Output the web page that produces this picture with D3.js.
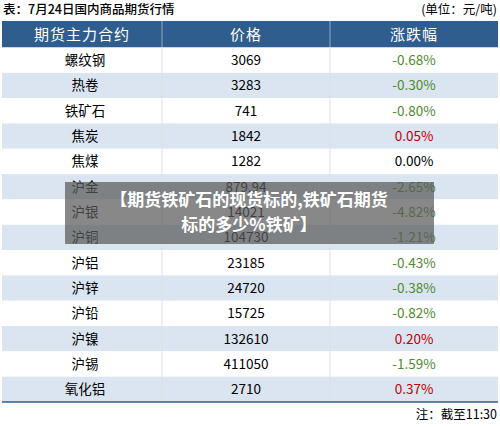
<!DOCTYPE html><html><head><meta charset="utf-8"><script src="https://cdn.jsdelivr.net/npm/d3@7"></script>
<style>body{margin:0;background:#fff}</style></head><body><svg id="c" width="500" height="427"></svg><script>
const names=["螺纹钢","热卷","铁矿石","焦炭","焦煤","沪金","沪银","沪铜","沪铝","沪锌","沪铅","沪镍","沪锡","氧化铝"];
const prices=["3069","3283","741","1842","1282","879.94","14021","104730","23185","24720","15725","132610","411050","2710"];
const changes=[-0.68,-0.30,-0.80,0.05,0.00,-2.65,-4.82,-1.21,-0.43,-0.38,-0.82,0.20,-1.59,0.37];
const headers=["期货主力合约","价格","涨跌幅"];
const svg=d3.select("#c"),F="'Noto Sans CJK SC',sans-serif";
const y=d3.scaleBand().domain(d3.range(names.length)).range([47.5,402]);
const cols=[[2,162],[162,330],[330,498]];
svg.append("text").attr("x",3).attr("y",14).attr("font-family",F).attr("font-size",12.5).attr("font-weight",500).text("表：7月24日国内商品期货行情");
svg.append("text").attr("x",497).attr("y",14).attr("text-anchor","end").attr("font-family",F).attr("font-size",12.5).text("(单位：元/吨)");
svg.append("rect").attr("x",2).attr("y",21).attr("width",496).attr("height",26.5).attr("fill","#2f5d8e");
headers.forEach((h,i)=>svg.append("text").attr("x",(cols[i][0]+cols[i][1])/2).attr("y",40).attr("text-anchor","middle").attr("fill","#fff").attr("font-family",F).attr("font-size",15).attr("letter-spacing",1).text(h));
[162,330].forEach(x=>svg.append("line").attr("x1",x).attr("x2",x).attr("y1",21).attr("y2",47.5).attr("stroke","#8fa9c8"));
names.forEach((n,i)=>{
 const g=svg.append("g");
 g.append("rect").attr("x",2).attr("y",y(i)).attr("width",496).attr("height",y.bandwidth()).attr("fill",i%2?"#dbe5f1":"#fff");
 const cy=y(i)+y.bandwidth()/2+5;
 g.append("text").attr("x",85).attr("y",cy).attr("text-anchor","middle").attr("font-family",F).attr("font-size",13.5).text(n);
 g.append("text").attr("x",246).attr("y",cy).attr("text-anchor","middle").attr("font-family",F).attr("font-size",13.5).text(prices[i]);
 const c=changes[i];
 g.append("text").attr("x",414).attr("y",cy).attr("text-anchor","middle").attr("font-family",F).attr("font-size",13.5)
  .attr("fill",c<0?"#4f8a2e":c>0?"#c00000":"#000").text(c.toFixed(2)+"%");
});
[162,330].forEach(x=>svg.append("line").attr("x1",x).attr("x2",x).attr("y1",47.5).attr("y2",402).attr("stroke","#e0e0e0"));
svg.append("line").attr("x1",2).attr("x2",498).attr("y1",402).attr("y2",402).attr("stroke","#2f5d8e").attr("stroke-width",1.5);
svg.append("text").attr("x",497).attr("y",419).attr("text-anchor","end").attr("font-family",F).attr("font-size",12.5).text("注：截至11:30");
svg.append("rect").attr("x",65).attr("y",182).attr("width",369).attr("height",62).attr("fill","rgba(90,90,90,0.72)");
["【期货铁矿石的现货标的,铁矿石期货","标的多少%铁矿】"].forEach((t,i)=>svg.append("text").attr("x",249).attr("y",206+i*25).attr("text-anchor","middle").attr("fill","#fff").attr("font-family",F).attr("font-weight",700).attr("font-size",17).text(t));
</script></body></html>
